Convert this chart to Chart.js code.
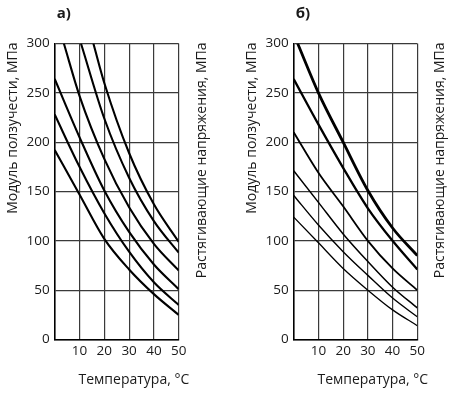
<!DOCTYPE html>
<html>
<head>
<meta charset="utf-8">
<script src="https://cdn.jsdelivr.net/npm/chart.js"></script>
<style>
body { margin: 0; background: #fff; }
#wrap { display: flex; width: 462px; height: 394px; }
canvas { display: block; }
</style>
</head>
<body>
<div id="wrap">
  <canvas id="chartA" width="231" height="394"></canvas>
  <canvas id="chartB" width="231" height="394"></canvas>
</div>
<script>
// tick labels
var xTicks = [10, 20, 30, 40, 50];
var yTicks = [0, 50, 100, 150, 200, 250, 300];
var temps = [0, 10, 20, 30, 40, 50];

// panel a) - curves from top to bottom
var aT1 = [15.6, 20, 30, 40, 50];
var aV1 = [300, 260, 189, 137, 99];
var aT2 = [10.6, 20, 30, 40, 50];
var aV2 = [300, 224, 164, 120, 88];
var aT3 = [3.7, 10, 20, 30, 40, 50];
var aV3 = [300, 247, 183, 134, 97, 70];
var aV4 = [264, 205, 151, 109, 76, 51];
var aV5 = [228, 175, 128, 89, 58, 35];
var aV6 = [192, 147, 102, 71, 46, 25];

// panel б) - curves from top to bottom
var bT1 = [1.6, 10, 20, 30, 40, 50];
var bV1 = [300, 250, 200, 151, 113, 85];
var bV2 = [264, 218, 174, 133, 100, 71];
var bV3 = [210, 169, 135, 100, 72, 50];
var bV4 = [171, 139, 107, 79, 53, 32];
var bV5 = [146, 116, 89, 65, 42, 23];
var bV6 = [124, 98, 72, 50, 30, 14];

var xTitle = "Температура, °C";
var yTitleLeft = "Модуль ползучести, МПа";
var yTitleRight = "Растягивающие напряжения, МПа";

var ink = "#1a1a1a";
var font = '"Open Sans", sans-serif';

function pts(xs, ys) {
    return xs.map(function (x, i) { return {x: x, y: ys[i]}; });
}

function line(xs, ys, w) {
    return {
        data: pts(xs, ys),
        borderColor: "#000",
        borderWidth: w,
        pointRadius: 0,
        fill: false,
        cubicInterpolationMode: "monotone"
    };
}

var panelText = {
    id: "panelText",
    afterDraw: function (chart, args, opts) {
        var ctx = chart.ctx, a = chart.chartArea;
        ctx.save();
        ctx.fillStyle = ink;
        ctx.textBaseline = "middle";
        ctx.textAlign = "left";
        ctx.font = "bold 15px " + font;
        ctx.fillText(opts.label, a.left + 2, 14);
        ctx.font = "14px " + font;
        ctx.fillText(xTitle, chart.scales.x.getPixelForValue(10) - 1, 380);
        [[a.left - 41.7, yTitleLeft], [a.right + 23, yTitleRight]].forEach(function (t) {
            ctx.save();
            ctx.translate(t[0], a.top - 1);
            ctx.rotate(-Math.PI / 2);
            ctx.textAlign = "right";
            ctx.fillText(t[1], 0, 0);
            ctx.restore();
        });
        ctx.restore();
    }
};

function makeChart(id, label, datasets, yWidth, rightPad) {
    return new Chart(document.getElementById(id), {
        type: "line",
        data: {datasets: datasets},
        options: {
            responsive: false,
            animation: false,
            devicePixelRatio: 1,
            layout: {padding: {left: 0, right: rightPad, top: 43.5, bottom: 0}},
            plugins: {
                legend: {display: false},
                tooltip: {enabled: false},
                panelText: {label: label}
            },
            scales: {
                x: {
                    type: "linear",
                    min: 0,
                    max: 50,
                    afterBuildTicks: function (s) { s.ticks = xTicks.map(function (v) { return {value: v}; }); },
                    afterFit: function (s) { s.height = 54.5; },
                    ticks: {color: ink, padding: 4, font: {family: font, size: 13.5}, maxRotation: 0},
                    grid: {color: "#3a3a3a", lineWidth: 1.2, drawTicks: false},
                    border: {color: "#000", width: 1.6}
                },
                y: {
                    min: 0,
                    max: 300,
                    afterBuildTicks: function (s) { s.ticks = yTicks.map(function (v) { return {value: v}; }); },
                    afterFit: function (s) { s.width = yWidth; },
                    ticks: {color: ink, padding: 5, font: {family: font, size: 13.5}},
                    grid: {color: "#3a3a3a", lineWidth: 1.2, drawTicks: false},
                    border: {color: "#000", width: 1.6}
                }
            }
        },
        plugins: [panelText]
    });
}

makeChart("chartA", "а)", [
    line(aT1, aV1, 2.1),
    line(aT2, aV2, 2.1),
    line(aT3, aV3, 2.1),
    line(temps, aV4, 2.1),
    line(temps, aV5, 2.1),
    line(temps, aV6, 2.1)
], 54.7, 52.3);

makeChart("chartB", "б)", [
    line(bT1, bV1, 2.8),
    line(temps, bV2, 2.3),
    line(temps, bV3, 1.8),
    line(temps, bV4, 1.5),
    line(temps, bV5, 1.4),
    line(temps, bV6, 1.3)
], 62.7, 44.7);
</script>
</body>
</html>
